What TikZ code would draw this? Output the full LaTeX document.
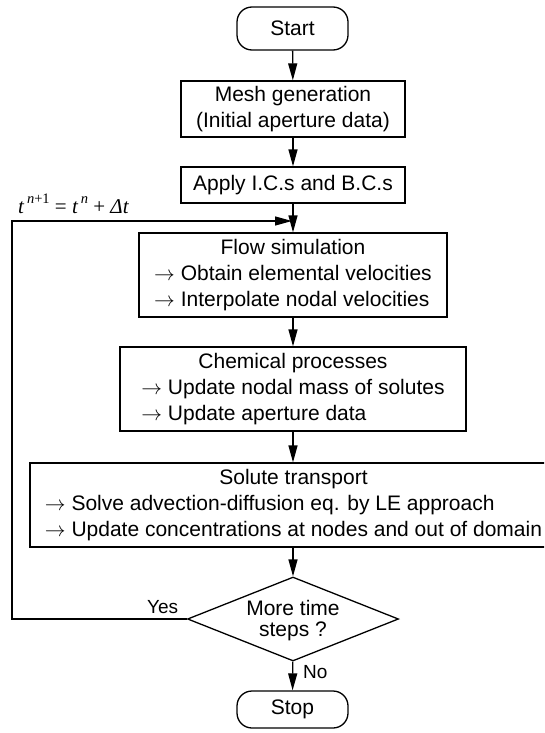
\documentclass[tikz,border=0pt]{standalone}
\usepackage{fontspec}
\setmainfont{Liberation Sans}
\newfontfamily\tmr{Liberation Serif}
\usetikzlibrary{arrows.meta,shapes.geometric}
\begin{document}
\begin{tikzpicture}[x=1pt,y=-1pt,
  every node/.style={font=\fontsize{21}{26}\selectfont},
  box/.style={draw,line width=1.3pt,rectangle,inner xsep=12pt,inner ysep=0pt},
  term/.style={draw,line width=1.3pt,rectangle,rounded corners=15pt,minimum width=111pt,inner sep=0pt},
  flowarrow/.style={line width=1.3pt,-{Triangle[width=9pt,length=17pt]}},
  lbl/.style={font=\fontsize{19}{19}\selectfont,inner sep=0pt,anchor=base west}]
\useasboundingbox (0,0) rectangle (544,733);
\clip (0,0) rectangle (544,733);

\node[term,minimum height=43pt] (start) at (292.5,28.5) {Start};
\node[box,minimum width=224pt,minimum height=56pt] (mesh) at (293,109)
  {\begin{tabular}{@{}c@{}}Mesh generation\\(Initial aperture data)\end{tabular}};
\node[box,minimum width=224pt,minimum height=36pt] (apply) at (293,185) {Apply I.C.s and B.C.s};
\node[box,minimum width=308pt,minimum height=84pt] (flow) at (293,275)
  {\begin{tabular}{@{}l@{}}\multicolumn{1}{@{}c@{}}{Flow simulation}\\
   $\rightarrow$ Obtain elemental velocities\\
   $\rightarrow$ Interpolate nodal velocities\end{tabular}};
\node[box,minimum width=346pt,minimum height=84pt] (chem) at (293,389)
  {\begin{tabular}{@{}l@{}}\multicolumn{1}{@{}c@{}}{Chemical processes}\\
   $\rightarrow$ Update nodal mass of solutes\\
   $\rightarrow$ Update aperture data\end{tabular}};
\node[box,minimum height=84pt,minimum width=540pt] (sol) at (300,505)
  {\begin{tabular}{@{}l@{}}\multicolumn{1}{@{}c@{}}{Solute transport}\\
   $\rightarrow$ Solve advection-diffusion eq. by LE approach\\
   $\rightarrow$ Update concentrations at nodes and out of domain\end{tabular}\hspace*{13pt}};
\node[draw,line width=1.3pt,diamond,aspect=2.51,minimum width=211pt,minimum height=84pt,inner sep=0pt] (dec) at (293,619) {};
\node[align=center,font=\fontsize{21}{21}\selectfont,inner sep=0pt] (dectext) at (293,621) {More time\\steps ?};
\node[term,minimum height=37pt] (stop) at (292.5,709.5) {Stop};

\coordinate (lc) at (12,221);
\coordinate (j) at (293,221);

\draw[flowarrow] (start) -- (mesh);
\draw[flowarrow] (mesh) -- (apply);
\draw[flowarrow] (apply) -- (flow);
\draw[flowarrow] (flow) -- (chem);
\draw[flowarrow] (chem) -- (sol.north -| dec);
\draw[flowarrow] (sol.south -| dec) -- (dec);
\draw[flowarrow] (dec) -- (stop);
\draw[flowarrow,shorten >=1pt] (dec.west) -| (lc) -- (j);

\node[lbl] (yes) at (147,613) {Yes};
\node[lbl] (no) at (303,678) {No};
\node[inner sep=0pt,anchor=base west] (teq) at (18,213)
  {\tmr\fontsize{21}{21}\selectfont\itshape t\kern3pt\raisebox{0.45em}{\fontsize{14.5}{14.5}\selectfont n\upshape+1}\upshape\ =\ \itshape t\kern3pt\raisebox{0.45em}{\fontsize{14.5}{14.5}\selectfont n}\upshape\ +\ \itshape Δt};
\end{tikzpicture}
\end{document}
